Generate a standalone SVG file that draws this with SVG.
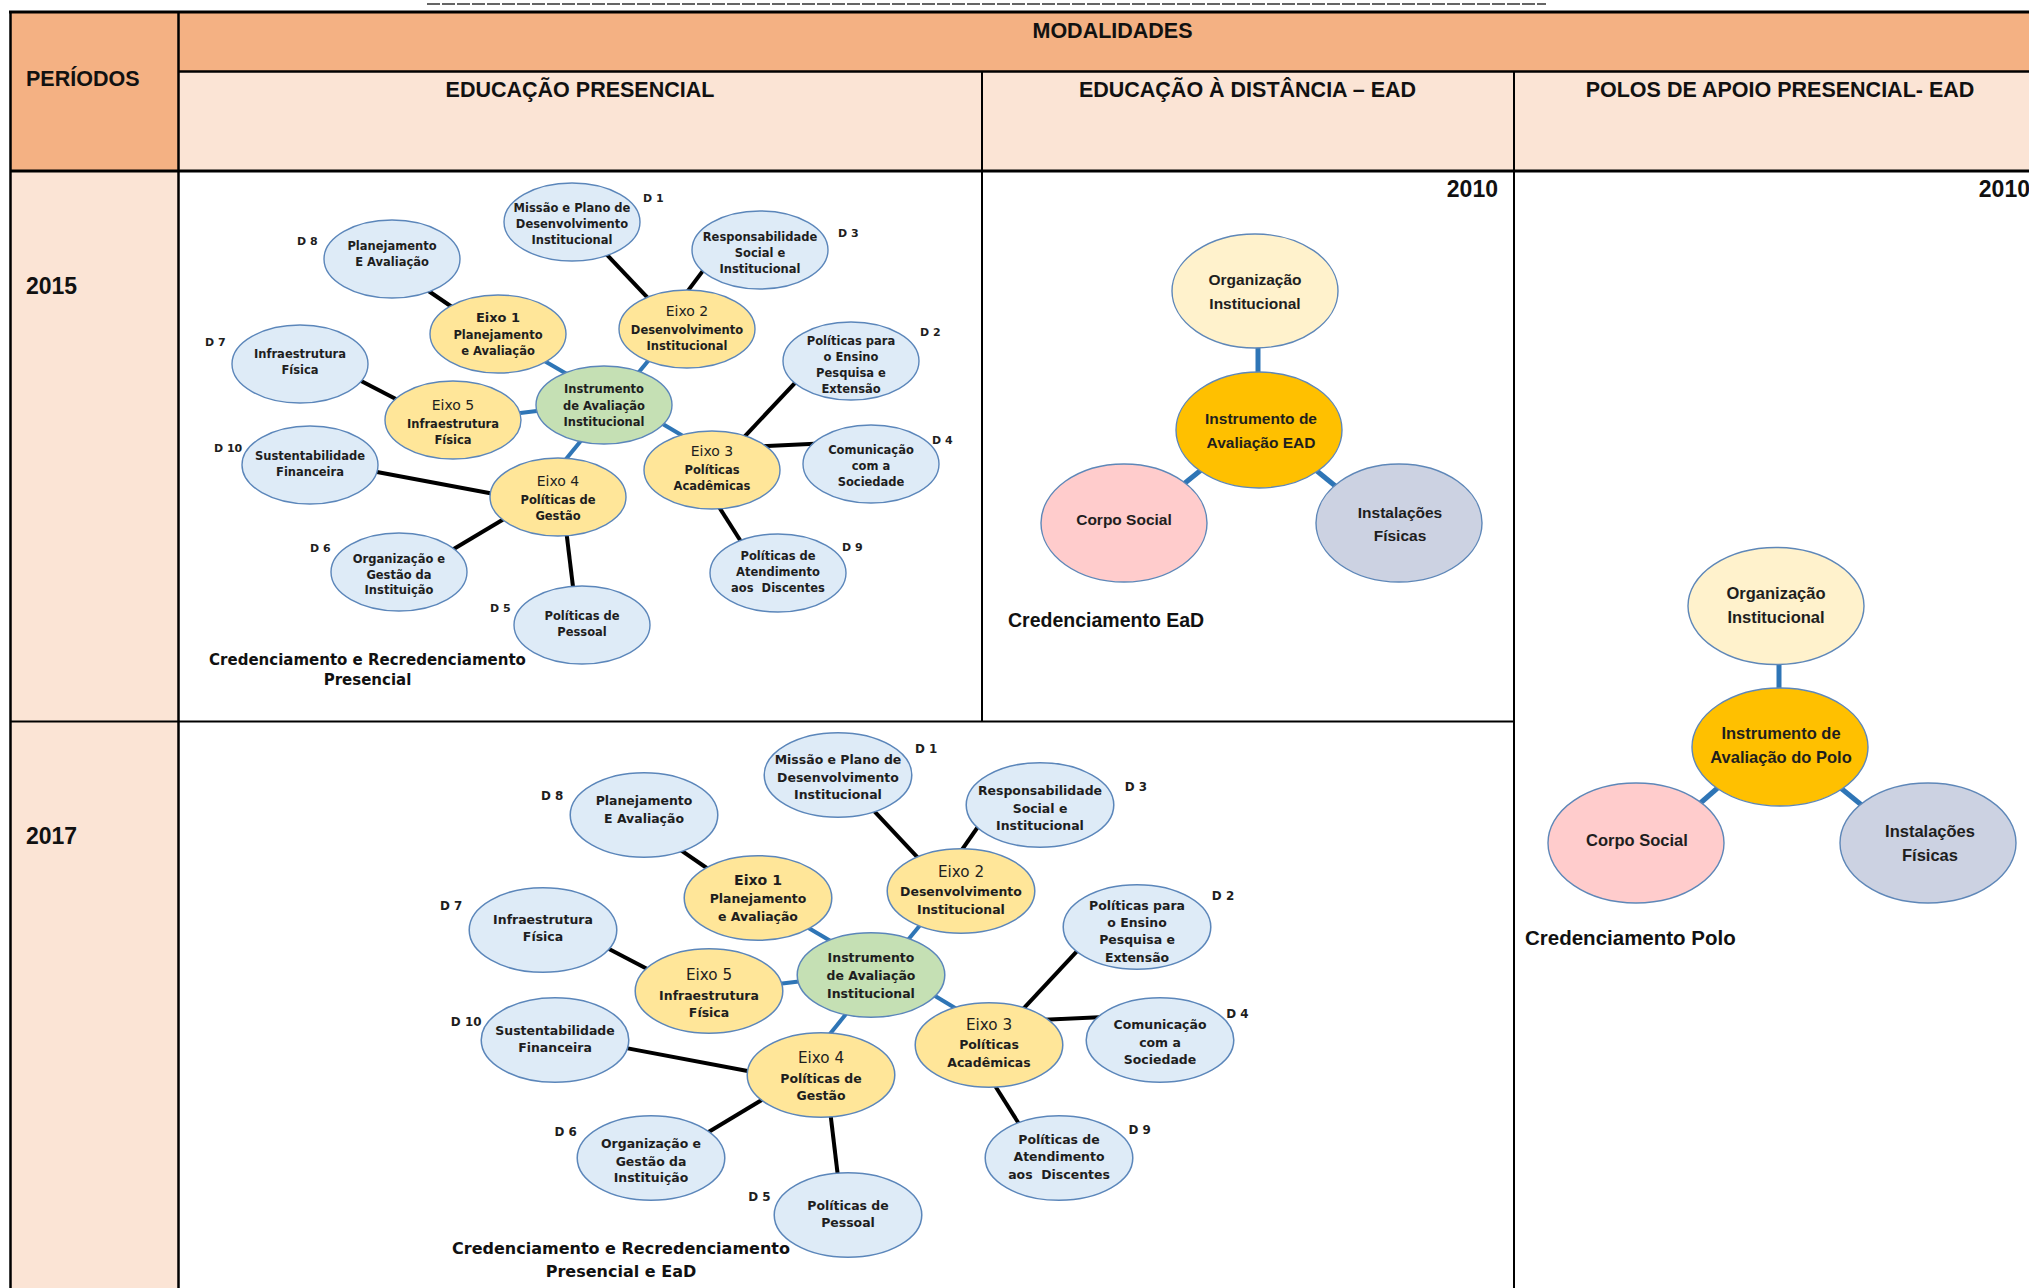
<svg xmlns="http://www.w3.org/2000/svg" width="2029" height="1288" viewBox="0 0 2029 1288">
<style>
.grid{stroke:#000;fill:none;stroke-width:2.5}
.hd{font-family:"Liberation Sans",Arial,sans-serif;font-weight:bold;fill:#111}
.dn ellipse{fill:#DEEBF7;stroke:#5B86BA;stroke-width:1.4}
.ex ellipse{fill:#FFE699;stroke:#5B86BA;stroke-width:1.4}
.gr ellipse{fill:#C5E0B4;stroke:#5B86BA;stroke-width:1.4}
.nt{font-family:"DejaVu Sans",Verdana,sans-serif;font-weight:bold;font-size:11.5px;fill:#1e1e1e;text-anchor:middle}
.e1{font-size:13px}
.er{font-weight:normal;font-size:14px}
.dl{font-family:"DejaVu Sans",Verdana,sans-serif;font-weight:bold;font-size:11px;fill:#1e1e1e}
.cap{font-family:"DejaVu Sans",Verdana,sans-serif;font-weight:bold;fill:#111;text-anchor:middle}
.bk{stroke:#000;stroke-width:4;fill:none}
.bl{stroke:#2E75B6;stroke-width:4;fill:none}
.bl5{stroke:#2E75B6;stroke-width:5;fill:none}
.big ellipse{stroke:#5E87B8;stroke-width:1.4}
.bt{font-family:"Liberation Sans",Arial,sans-serif;font-weight:bold;fill:#1e1e1e;text-anchor:middle}
</style>
<rect width="2029" height="1288" fill="#fff"/>
<g id="table">
<line x1="427" y1="4" x2="1546" y2="4" stroke="#333" stroke-width="1.5" stroke-dasharray="13 2"/>
<rect x="10.5" y="12" width="168" height="159" fill="#F4B183"/>
<rect x="178.5" y="12" width="1860" height="59.5" fill="#F4B183"/>
<rect x="178.5" y="71.5" width="1860" height="99.5" fill="#FBE4D5"/>
<rect x="10.5" y="171" width="168" height="1117" fill="#FBE4D5"/>
<line class="grid" x1="9" y1="12" x2="2029" y2="12" style="stroke-width:3"/>
<line class="grid" x1="10.5" y1="12" x2="10.5" y2="1288"/>
<line class="grid" x1="178.5" y1="12" x2="178.5" y2="1288"/>
<line class="grid" x1="178.5" y1="71.5" x2="2029" y2="71.5"/>
<line class="grid" x1="10.5" y1="171" x2="2029" y2="171" style="stroke-width:3"/>
<line class="grid" x1="982" y1="71.5" x2="982" y2="721.5" style="stroke-width:2"/>
<line class="grid" x1="1514" y1="71.5" x2="1514" y2="1288" style="stroke-width:2"/>
<line class="grid" x1="10.5" y1="721.5" x2="1514" y2="721.5" style="stroke-width:2"/>
<text class="hd" x="26" y="86" font-size="21.5">PERÍODOS</text>
<text class="hd" x="1112.5" y="38" font-size="21.5" text-anchor="middle">MODALIDADES</text>
<text class="hd" x="580" y="97" font-size="21.5" text-anchor="middle">EDUCAÇÃO PRESENCIAL</text>
<text class="hd" x="1247.5" y="97" font-size="21.5" text-anchor="middle">EDUCAÇÃO À DISTÂNCIA – EAD</text>
<text class="hd" x="1780" y="97" font-size="21.5" text-anchor="middle">POLOS DE APOIO PRESENCIAL- EAD</text>
<text class="hd" x="26" y="294" font-size="23">2015</text>
<text class="hd" x="26" y="844" font-size="23">2017</text>
<text class="hd" x="1498" y="197" font-size="23" text-anchor="end">2010</text>
<text class="hd" x="2030" y="197" font-size="23" text-anchor="end">2010</text>
</g>

<g id="connectors">
<!-- 2015 presencial -->
<line class="bk" x1="604.5" y1="252.2" x2="652.5" y2="302.8"/>
<line class="bk" x1="706.8" y1="265.6" x2="685.2" y2="294.4"/>
<line class="bk" x1="423.4" y1="287.5" x2="458.6" y2="311.5"/>
<line class="bk" x1="353.9" y1="377.3" x2="403.1" y2="402.7"/>
<line class="bk" x1="369" y1="470.5" x2="497" y2="494.5"/>
<line class="bk" x1="447" y1="553" x2="509" y2="516"/>
<line class="bk" x1="566" y1="529" x2="574" y2="595"/>
<line class="bk" x1="741.5" y1="439.8" x2="799.5" y2="378.2"/>
<line class="bk" x1="759" y1="446.4" x2="820" y2="443.6"/>
<line class="bk" x1="714.7" y1="500.2" x2="744.3" y2="546.8"/>
<line class="bl" x1="541" y1="359" x2="572" y2="377"/>
<line class="bl" x1="512" y1="414" x2="545" y2="410"/>
<line class="bl" x1="634" y1="378" x2="653" y2="355"/>
<line class="bl" x1="584" y1="437" x2="562" y2="464"/>
<line class="bl" x1="656" y1="420" x2="688" y2="439"/>
<!-- 2017 presencial e EaD -->
<line class="bk" x1="871.6" y1="808.4" x2="923.4" y2="863.6"/>
<line class="bk" x1="982" y1="821" x2="958.7" y2="854.4"/>
<line class="bk" x1="676" y1="846.9" x2="714" y2="873"/>
<line class="bk" x1="600.9" y1="944.8" x2="654" y2="972.4"/>
<line class="bk" x1="617.2" y1="1046.4" x2="755.5" y2="1072.5"/>
<line class="bk" x1="701.5" y1="1136.3" x2="768.4" y2="1096"/>
<line class="bk" x1="830" y1="1110.1" x2="838.6" y2="1182"/>
<line class="bk" x1="1019.5" y1="1012.9" x2="1082.2" y2="945.7"/>
<line class="bk" x1="1038.4" y1="1020.1" x2="1104.3" y2="1017"/>
<line class="bk" x1="990.6" y1="1078.7" x2="1022.5" y2="1129.5"/>
<line class="bl" x1="803" y1="924.8" x2="836.5" y2="944.4"/>
<line class="bl" x1="771.7" y1="984.8" x2="807.3" y2="980.4"/>
<line class="bl" x1="903.4" y1="945.5" x2="923.9" y2="920.5"/>
<line class="bl" x1="849.4" y1="1009.8" x2="825.7" y2="1039.3"/>
<line class="bl" x1="927.2" y1="991.3" x2="961.7" y2="1012"/>
<!-- EAD 2010 -->
<line class="bl5" x1="1258" y1="345" x2="1258" y2="375"/>
<line class="bl5" x1="1180" y1="487" x2="1206" y2="466"/>
<line class="bl5" x1="1312" y1="467" x2="1339" y2="489"/>
<!-- Polo 2010 -->
<line class="bl5" x1="1779" y1="660" x2="1779" y2="692"/>
<line class="bl5" x1="1697" y1="806" x2="1721" y2="785"/>
<line class="bl5" x1="1837" y1="785" x2="1864" y2="807"/>
</g>

<!-- 2015 presencial nodes -->
<g id="p15-d1" class="dn" transform="translate(572,222)"><ellipse rx="68" ry="39"/><text class="nt"><tspan x="0" y="-10">Missão e Plano de</tspan><tspan x="0" y="6">Desenvolvimento</tspan><tspan x="0" y="22">Institucional</tspan></text><text class="dl" x="71" y="-20">D 1</text></g>
<g id="p15-d8" class="dn" transform="translate(392,259)"><ellipse rx="68" ry="39"/><text class="nt"><tspan x="0" y="-9">Planejamento</tspan><tspan x="0" y="7">E Avaliação</tspan></text><text class="dl" x="-95" y="-14">D 8</text></g>
<g id="p15-d3" class="dn" transform="translate(760,250)"><ellipse rx="68" ry="39"/><text class="nt"><tspan x="0" y="-9">Responsabilidade</tspan><tspan x="0" y="7">Social e</tspan><tspan x="0" y="23">Institucional</tspan></text><text class="dl" x="78" y="-13">D 3</text></g>
<g id="p15-d7" class="dn" transform="translate(300,364)"><ellipse rx="68" ry="39"/><text class="nt"><tspan x="0" y="-6">Infraestrutura</tspan><tspan x="0" y="10">Física</tspan></text><text class="dl" x="-95" y="-18">D 7</text></g>
<g id="p15-d10" class="dn" transform="translate(310,465)"><ellipse rx="68" ry="39"/><text class="nt"><tspan x="0" y="-5">Sustentabilidade</tspan><tspan x="0" y="11">Financeira</tspan></text><text class="dl" x="-96" y="-13">D 10</text></g>
<g id="p15-d2" class="dn" transform="translate(851,361)"><ellipse rx="68" ry="39"/><text class="nt"><tspan x="0" y="-16">Políticas para</tspan><tspan x="0" y="0">o Ensino</tspan><tspan x="0" y="16">Pesquisa e</tspan><tspan x="0" y="32">Extensão</tspan></text><text class="dl" x="69" y="-25">D 2</text></g>
<g id="p15-d4" class="dn" transform="translate(871,464)"><ellipse rx="68" ry="39"/><text class="nt"><tspan x="0" y="-10">Comunicação</tspan><tspan x="0" y="6">com a</tspan><tspan x="0" y="22">Sociedade</tspan></text><text class="dl" x="61" y="-20">D 4</text></g>
<g id="p15-d9" class="dn" transform="translate(778,573)"><ellipse rx="68" ry="39"/><text class="nt" xml:space="preserve"><tspan x="0" y="-13">Políticas de</tspan><tspan x="0" y="3">Atendimento</tspan><tspan x="0" y="19">aos  Discentes</tspan></text><text class="dl" x="64" y="-22">D 9</text></g>
<g id="p15-d6" class="dn" transform="translate(399,572)"><ellipse rx="68" ry="39"/><text class="nt"><tspan x="0" y="-9">Organização e</tspan><tspan x="0" y="7">Gestão da</tspan><tspan x="0" y="22">Instituição</tspan></text><text class="dl" x="-89" y="-20">D 6</text></g>
<g id="p15-d5" class="dn" transform="translate(582,625)"><ellipse rx="68" ry="39"/><text class="nt"><tspan x="0" y="-5">Políticas de</tspan><tspan x="0" y="11">Pessoal</tspan></text><text class="dl" x="-92" y="-13">D 5</text></g>
<g id="p15-eixo1" class="ex" transform="translate(498,334)"><ellipse rx="68" ry="39"/><text class="nt"><tspan class="e1" x="0" y="-12">Eixo 1</tspan><tspan x="0" y="5">Planejamento</tspan><tspan x="0" y="21">e Avaliação</tspan></text></g>
<g id="p15-eixo2" class="ex" transform="translate(687,329)"><ellipse rx="68" ry="39"/><text class="nt"><tspan class="er" x="0" y="-13">Eixo 2</tspan><tspan x="0" y="5">Desenvolvimento</tspan><tspan x="0" y="21">Institucional</tspan></text></g>
<g id="p15-eixo3" class="ex" transform="translate(712,470)"><ellipse rx="68" ry="39"/><text class="nt"><tspan class="er" x="0" y="-14">Eixo 3</tspan><tspan x="0" y="4">Políticas</tspan><tspan x="0" y="20">Acadêmicas</tspan></text></g>
<g id="p15-eixo4" class="ex" transform="translate(558,497)"><ellipse rx="68" ry="39"/><text class="nt"><tspan class="er" x="0" y="-11">Eixo 4</tspan><tspan x="0" y="7">Políticas de</tspan><tspan x="0" y="23">Gestão</tspan></text></g>
<g id="p15-eixo5" class="ex" transform="translate(453,420)"><ellipse rx="68" ry="39"/><text class="nt"><tspan class="er" x="0" y="-10">Eixo 5</tspan><tspan x="0" y="8">Infraestrutura</tspan><tspan x="0" y="24">Física</tspan></text></g>
<g id="p15-instr" class="gr" transform="translate(604,405)"><ellipse rx="68" ry="39"/><text class="nt"><tspan x="0" y="-12">Instrumento</tspan><tspan x="0" y="5">de Avaliação</tspan><tspan x="0" y="21">Institucional</tspan></text></g>
<text id="p15-caption" class="cap" font-size="15"><tspan x="367.5" y="664.5">Credenciamento e Recredenciamento</tspan><tspan x="367.5" y="685">Presencial</tspan></text>

<!-- 2017 presencial e EaD nodes -->
<g id="p17-d1" class="dn" transform="translate(838,775) scale(1.085)"><ellipse rx="68" ry="39"/><text class="nt"><tspan x="0" y="-10">Missão e Plano de</tspan><tspan x="0" y="6">Desenvolvimento</tspan><tspan x="0" y="22">Institucional</tspan></text><text class="dl" x="71" y="-20">D 1</text></g>
<g id="p17-d8" class="dn" transform="translate(644,815) scale(1.085)"><ellipse rx="68" ry="39"/><text class="nt"><tspan x="0" y="-9">Planejamento</tspan><tspan x="0" y="7">E Avaliação</tspan></text><text class="dl" x="-95" y="-14">D 8</text></g>
<g id="p17-d3" class="dn" transform="translate(1040,805) scale(1.085)"><ellipse rx="68" ry="39"/><text class="nt"><tspan x="0" y="-9">Responsabilidade</tspan><tspan x="0" y="7">Social e</tspan><tspan x="0" y="23">Institucional</tspan></text><text class="dl" x="78" y="-13">D 3</text></g>
<g id="p17-d7" class="dn" transform="translate(543,930) scale(1.085)"><ellipse rx="68" ry="39"/><text class="nt"><tspan x="0" y="-6">Infraestrutura</tspan><tspan x="0" y="10">Física</tspan></text><text class="dl" x="-95" y="-18">D 7</text></g>
<g id="p17-d10" class="dn" transform="translate(555,1040) scale(1.085)"><ellipse rx="68" ry="39"/><text class="nt"><tspan x="0" y="-5">Sustentabilidade</tspan><tspan x="0" y="11">Financeira</tspan></text><text class="dl" x="-96" y="-13">D 10</text></g>
<g id="p17-d2" class="dn" transform="translate(1137,927) scale(1.085)"><ellipse rx="68" ry="39"/><text class="nt"><tspan x="0" y="-16">Políticas para</tspan><tspan x="0" y="0">o Ensino</tspan><tspan x="0" y="16">Pesquisa e</tspan><tspan x="0" y="32">Extensão</tspan></text><text class="dl" x="69" y="-25">D 2</text></g>
<g id="p17-d4" class="dn" transform="translate(1160,1040) scale(1.085)"><ellipse rx="68" ry="39"/><text class="nt"><tspan x="0" y="-10">Comunicação</tspan><tspan x="0" y="6">com a</tspan><tspan x="0" y="22">Sociedade</tspan></text><text class="dl" x="61" y="-20">D 4</text></g>
<g id="p17-d9" class="dn" transform="translate(1059,1158) scale(1.085)"><ellipse rx="68" ry="39"/><text class="nt" xml:space="preserve"><tspan x="0" y="-13">Políticas de</tspan><tspan x="0" y="3">Atendimento</tspan><tspan x="0" y="19">aos  Discentes</tspan></text><text class="dl" x="64" y="-22">D 9</text></g>
<g id="p17-d6" class="dn" transform="translate(651,1158) scale(1.085)"><ellipse rx="68" ry="39"/><text class="nt"><tspan x="0" y="-9">Organização e</tspan><tspan x="0" y="7">Gestão da</tspan><tspan x="0" y="22">Instituição</tspan></text><text class="dl" x="-89" y="-20">D 6</text></g>
<g id="p17-d5" class="dn" transform="translate(848,1215) scale(1.085)"><ellipse rx="68" ry="39"/><text class="nt"><tspan x="0" y="-5">Políticas de</tspan><tspan x="0" y="11">Pessoal</tspan></text><text class="dl" x="-92" y="-13">D 5</text></g>
<g id="p17-eixo1" class="ex" transform="translate(758,898) scale(1.085)"><ellipse rx="68" ry="39"/><text class="nt"><tspan class="e1" x="0" y="-12">Eixo 1</tspan><tspan x="0" y="5">Planejamento</tspan><tspan x="0" y="21">e Avaliação</tspan></text></g>
<g id="p17-eixo2" class="ex" transform="translate(961,891) scale(1.085)"><ellipse rx="68" ry="39"/><text class="nt"><tspan class="er" x="0" y="-13">Eixo 2</tspan><tspan x="0" y="5">Desenvolvimento</tspan><tspan x="0" y="21">Institucional</tspan></text></g>
<g id="p17-eixo3" class="ex" transform="translate(989,1045) scale(1.085)"><ellipse rx="68" ry="39"/><text class="nt"><tspan class="er" x="0" y="-14">Eixo 3</tspan><tspan x="0" y="4">Políticas</tspan><tspan x="0" y="20">Acadêmicas</tspan></text></g>
<g id="p17-eixo4" class="ex" transform="translate(821,1075) scale(1.085)"><ellipse rx="68" ry="39"/><text class="nt"><tspan class="er" x="0" y="-11">Eixo 4</tspan><tspan x="0" y="7">Políticas de</tspan><tspan x="0" y="23">Gestão</tspan></text></g>
<g id="p17-eixo5" class="ex" transform="translate(709,991) scale(1.085)"><ellipse rx="68" ry="39"/><text class="nt"><tspan class="er" x="0" y="-10">Eixo 5</tspan><tspan x="0" y="8">Infraestrutura</tspan><tspan x="0" y="24">Física</tspan></text></g>
<g id="p17-instr" class="gr" transform="translate(871,975) scale(1.085)"><ellipse rx="68" ry="39"/><text class="nt"><tspan x="0" y="-12">Instrumento</tspan><tspan x="0" y="5">de Avaliação</tspan><tspan x="0" y="21">Institucional</tspan></text></g>
<text id="p17-caption" class="cap" font-size="16"><tspan x="621" y="1254">Credenciamento e Recredenciamento</tspan><tspan x="621" y="1277">Presencial e EaD</tspan></text>

<!-- EAD 2010 -->
<g id="ead-org" class="big"><ellipse cx="1255" cy="291" rx="83" ry="57" fill="#FFF2CC"/><text class="bt" font-size="15.5"><tspan x="1255" y="285">Organização</tspan><tspan x="1255" y="309">Institucional</tspan></text></g>
<g id="ead-instr" class="big"><ellipse cx="1259" cy="430" rx="83" ry="58" fill="#FFC000"/><text class="bt" font-size="15.5"><tspan x="1261" y="424">Instrumento de</tspan><tspan x="1261" y="448">Avaliação EAD</tspan></text></g>
<g id="ead-corpo" class="big"><ellipse cx="1124" cy="523" rx="83" ry="59" fill="#FFCCCC"/><text class="bt" font-size="15.5" x="1124" y="525">Corpo Social</text></g>
<g id="ead-inst" class="big"><ellipse cx="1399" cy="523" rx="83" ry="59" fill="#CCD2E2"/><text class="bt" font-size="15.5"><tspan x="1400" y="518">Instalações</tspan><tspan x="1400" y="541">Físicas</tspan></text></g>
<text id="ead-caption" class="hd" x="1008" y="627" font-size="19.5">Credenciamento EaD</text>

<!-- Polo 2010 -->
<g id="polo-org" class="big"><ellipse cx="1776" cy="606" rx="88" ry="58.5" fill="#FFF2CC"/><text class="bt" font-size="16.5"><tspan x="1776" y="599">Organização</tspan><tspan x="1776" y="623">Institucional</tspan></text></g>
<g id="polo-instr" class="big"><ellipse cx="1780" cy="747" rx="88" ry="59" fill="#FFC000"/><text class="bt" font-size="16.5"><tspan x="1781" y="739">Instrumento de</tspan><tspan x="1781" y="763">Avaliação do Polo</tspan></text></g>
<g id="polo-corpo" class="big"><ellipse cx="1636" cy="843" rx="88" ry="60" fill="#FFCCCC"/><text class="bt" font-size="16.5" x="1637" y="846">Corpo Social</text></g>
<g id="polo-inst" class="big"><ellipse cx="1928" cy="843" rx="88" ry="60" fill="#CCD2E2"/><text class="bt" font-size="16.5"><tspan x="1930" y="837">Instalações</tspan><tspan x="1930" y="861">Físicas</tspan></text></g>
<text id="polo-caption" class="hd" x="1525" y="945" font-size="20.5">Credenciamento Polo</text>
</svg>
